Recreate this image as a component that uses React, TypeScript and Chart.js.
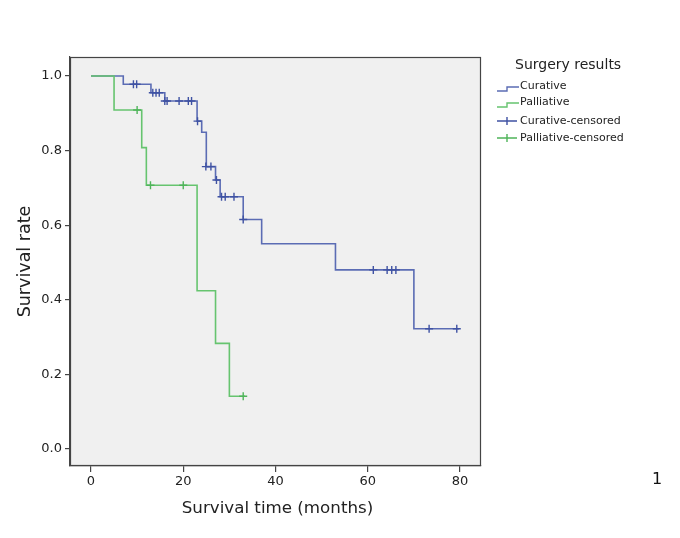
import React, { useEffect, useRef } from "react";
import { Chart, registerables } from "chart.js";

Chart.register(...registerables);

// Kaplan–Meier step curves: [time (months), survival after the event]
const curativeTimes = [0, 7, 13, 16, 23, 24, 25, 27, 28, 33, 37, 53, 70, 79.8];
const curativeSurv = [1.0, 0.978, 0.955, 0.933, 0.879, 0.849, 0.757, 0.721, 0.676, 0.615, 0.55, 0.48, 0.322, 0.322];
const palliativeTimes = [0, 5, 11, 12, 23, 27, 30, 33.4];
const palliativeSurv = [1.0, 0.909, 0.808, 0.707, 0.424, 0.283, 0.141, 0.141];

// Censored observations
const curativeCensTimes = [9.2, 9.9, 13.4, 14.1, 14.8, 16.0, 16.5, 19.1, 21.1, 21.8, 23.1, 24.9, 26.0, 27.2, 28.3, 29.1, 31.0, 33.0, 61.2, 64.2, 65.2, 66.1, 73.3, 79.3];
const curativeCensSurv = [0.978, 0.978, 0.955, 0.955, 0.955, 0.933, 0.933, 0.933, 0.933, 0.933, 0.879, 0.757, 0.757, 0.721, 0.676, 0.676, 0.676, 0.615, 0.48, 0.48, 0.48, 0.48, 0.322, 0.322];
const palliativeCensTimes = [10.0, 12.9, 20.0, 33.0];
const palliativeCensSurv = [0.909, 0.707, 0.707, 0.141];

const xTicks = [0, 20, 40, 60, 80];
const yTicks = [0.0, 0.2, 0.4, 0.6, 0.8, 1.0];

const legendTitle = "Surgery results";
const legendLabels = ["Curative", "Palliative", "Curative-censored", "Palliative-censored"];
const xTitle = "Survival time (months)";
const yTitle = "Survival rate";
const cornerLabel = "1";

const BLUE = "#5b6cb4";
const BLUE_MARK = "#3f52a3";
const GREEN = "#66c46f";
const GREEN_MARK = "#4fb45a";
const FONT = "'DejaVu Sans', Verdana, sans-serif";

const zip = (xs: number[], ys: number[]) => xs.map((x, i) => ({ x, y: ys[i] }));

const decorPlugin = {
  id: "decor",
  beforeDraw(chart: any) {
    const { ctx, chartArea: a } = chart;
    ctx.save();
    ctx.fillStyle = "#ffffff";
    ctx.fillRect(0, 0, chart.width, chart.height);
    ctx.fillStyle = "#f0f0f0";
    ctx.fillRect(a.left, a.top, a.right - a.left, a.bottom - a.top);
    ctx.restore();
  },
  afterDraw(chart: any) {
    const { ctx, chartArea: a } = chart;
    ctx.save();
    // frame
    ctx.strokeStyle = "#444";
    ctx.lineWidth = 1.2;
    ctx.strokeRect(a.left + 0.5, a.top + 0.5, a.right - a.left - 1, a.bottom - a.top - 1);

    // axis titles
    ctx.fillStyle = "#222";
    ctx.font = `16.7px ${FONT}`;
    ctx.textAlign = "center";
    ctx.textBaseline = "middle";
    ctx.fillText(xTitle, (a.left + a.right) / 2 + 2, 509);
    ctx.save();
    ctx.translate(25, (a.top + a.bottom) / 2);
    ctx.rotate(-Math.PI / 2);
    ctx.font = `17.5px ${FONT}`;
    ctx.fillText(yTitle, 0, 0);
    ctx.restore();

    // legend
    ctx.textAlign = "left";
    ctx.font = `14px ${FONT}`;
    ctx.fillText(legendTitle, 515, 65);
    ctx.font = `11px ${FONT}`;
    const rows = [88, 104, 121, 138];
    const cols = [BLUE, GREEN, BLUE_MARK, GREEN_MARK];
    rows.forEach((y, i) => {
      ctx.strokeStyle = cols[i];
      ctx.lineWidth = 1.4;
      ctx.beginPath();
      if (i < 2) {
        ctx.moveTo(497, y + 3);
        ctx.lineTo(507, y + 3);
        ctx.lineTo(507, y - 1);
        ctx.lineTo(519, y - 1);
      } else {
        ctx.moveTo(497, y);
        ctx.lineTo(517, y);
        ctx.moveTo(507, y - 4);
        ctx.lineTo(507, y + 4);
      }
      ctx.stroke();
      ctx.fillStyle = "#222";
      ctx.fillText(legendLabels[i], 520, i < 2 ? y - 2 : y);
    });

    ctx.font = `16px ${FONT}`;
    ctx.fillStyle = "#111";
    ctx.textAlign = "center";
    ctx.fillText(cornerLabel, 657, 480);
    ctx.restore();
  },
};

export default function App() {
  const ref = useRef<HTMLCanvasElement>(null);
  useEffect(() => {
    document.body.style.margin = "0";
    const canvas = ref.current!;
    const chart = new Chart(canvas, {
      type: "scatter",
      data: {
        datasets: [
          {
            label: legendLabels[1],
            data: zip(palliativeTimes, palliativeSurv),
            showLine: true,
            stepped: true,
            borderColor: GREEN,
            borderWidth: 1.6,
            pointRadius: 0,
            order: 1,
          },
          {
            label: legendLabels[3],
            data: zip(palliativeCensTimes, palliativeCensSurv),
            showLine: false,
            pointStyle: "cross",
            pointRadius: 4,
            borderColor: GREEN_MARK,
            borderWidth: 1.4,
            order: 0,
          },
          {
            label: legendLabels[0],
            data: zip(curativeTimes, curativeSurv),
            showLine: true,
            stepped: true,
            borderColor: BLUE,
            borderWidth: 1.6,
            pointRadius: 0,
            order: 3,
          },
          {
            label: legendLabels[2],
            data: zip(curativeCensTimes, curativeCensSurv),
            showLine: false,
            pointStyle: "cross",
            pointRadius: 4,
            borderColor: BLUE_MARK,
            borderWidth: 1.4,
            order: 2,
          },
        ],
      },
      options: {
        responsive: false,
        animation: false,
        layout: { padding: { left: 0, top: 57, right: 199, bottom: 0 } },
        plugins: { legend: { display: false }, tooltip: { enabled: false } },
        scales: {
          x: {
            type: "linear",
            min: -4.55,
            max: 84.55,
            afterFit: (s: any) => { s.height = 72; },
            afterBuildTicks: (s: any) => { s.ticks = xTicks.map((v) => ({ value: v })); },
            grid: { drawOnChartArea: false, drawTicks: true, tickLength: 6, color: "#444", lineWidth: 1.2 },
            border: { display: true, color: "#444", width: 1.2 },
            ticks: { font: { family: FONT, size: 13 }, color: "#222", padding: 2, maxRotation: 0 },
          },
          y: {
            type: "linear",
            min: -0.046,
            max: 1.051,
            afterFit: (s: any) => { s.width = 70; },
            afterBuildTicks: (s: any) => { s.ticks = yTicks.map((v) => ({ value: v })); },
            grid: { drawOnChartArea: false, drawTicks: true, tickLength: 5, color: "#444", lineWidth: 1.2 },
            border: { display: true, color: "#444", width: 1.2 },
            ticks: {
              font: { family: FONT, size: 13 },
              color: "#222",
              padding: 3,
              callback: (v: any) => Number(v).toFixed(1),
            },
          },
        },
      },
      plugins: [decorPlugin],
    });
    return () => chart.destroy();
  }, []);
  return <canvas ref={ref} width={680} height={538} style={{ display: "block" }} />;
}
